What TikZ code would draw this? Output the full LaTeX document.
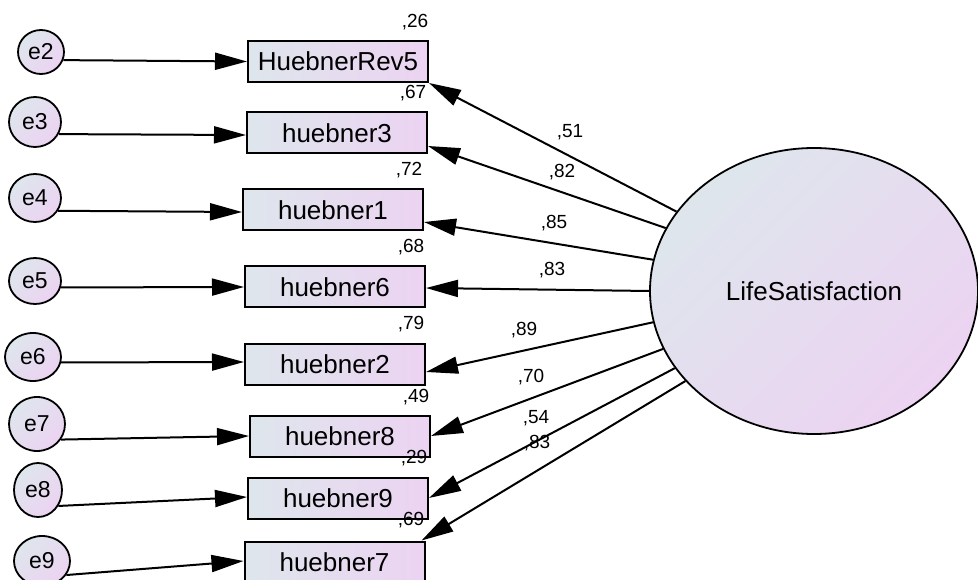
\documentclass[tikz,border=0pt]{standalone}
\usepackage{fontspec}
\setmainfont{Liberation Sans}
\usetikzlibrary{shapes.geometric,arrows.meta}
\definecolor{shadeA}{HTML}{DEE6EC}
\definecolor{shadeB}{HTML}{ECD3F2}
\tikzset{
  obs/.style={draw=black, line width=2pt, rectangle, minimum width=180pt, minimum height=41pt, inner sep=0pt,
    left color=shadeA, right color=shadeB, font=\fontsize{26}{30}\selectfont},
  err/.style={draw=black, line width=1.8pt, ellipse, inner sep=0pt,
    top color=shadeA, bottom color=shadeB, shading angle=45, font=\fontsize{23}{27}\selectfont},
  lat/.style={draw=black, line width=1.8pt, ellipse, minimum width=328pt, minimum height=286pt, inner sep=0pt,
    top color=shadeA, bottom color=shadeB, shading angle=45, font=\fontsize{26}{30}\selectfont},
  lbl/.style={inner sep=0pt, font=\fontsize{19}{22}\selectfont},
  path/.style={draw=black, line width=2pt, -{Triangle[length=32pt,width=17pt]}}
}
\begin{document}
\begin{tikzpicture}[x=1pt,y=-1pt]
\useasboundingbox (0,0) rectangle (978,580);
\clip (0,0) rectangle (978,580);
% observed variables
\node[obs] (HR5) at (338,61.5) {HuebnerRev5};
\node[obs] (h3) at (337,133) {huebner3};
\node[obs] (h1) at (333,210) {huebner1};
\node[obs] (h6) at (335,287) {huebner6};
\node[obs] (h2) at (335,364) {huebner2};
\node[obs] (h8) at (340,436) {huebner8};
\node[obs] (h9) at (338,498) {huebner9};
\node[obs] (h7) at (334.5,562) {huebner7};
% error terms
\node[err, minimum width=46pt, minimum height=44pt] (e2) at (41,52) {e2};
\node[err, minimum width=52pt, minimum height=50pt] (e3) at (35,122) {e3};
\node[err, minimum width=52pt, minimum height=48pt] (e4) at (35,198) {e4};
\node[err, minimum width=52pt, minimum height=46pt] (e5) at (35,281) {e5};
\node[err, minimum width=56pt, minimum height=48pt] (e6) at (33,357) {e6};
\node[err, minimum width=56pt, minimum height=54pt] (e7) at (37,424) {e7};
\node[err, minimum width=48pt, minimum height=54pt] (e8) at (38,490) {e8};
\node[err, minimum width=56pt, minimum height=50pt] (e9) at (42,561) {e9};
% latent
\node[lat] (LS) at (814,291) {LifeSatisfaction};
% error paths
\draw[path] (e2.-20) -- (HR5.west);
\draw[path] (e3.-27) -- ([yshift=-2pt]h3.west);
\draw[path] (e4.-29) -- ([yshift=-2pt]h1.west);
\draw[path] (e5.-14) -- (h6.west);
\draw[path] (e6.-11) -- ([yshift=2pt]h2.west);
\draw[path] (e7.-33) -- (h8.west);
\draw[path] (e8.-38) -- ([yshift=1pt]h9.west);
\draw[path] (e9.-30) -- ([yshift=1pt]h7.west);
% loadings
\draw[path] (LS.150) -- (HR5.south east);
\draw[path] (LS.157.7) -- ([yshift=-13pt]h3.east);
\draw[path] (LS.169) -- ([yshift=-12pt]h1.east);
\draw[path] (LS.180) -- ([yshift=-1pt]h6.east);
\draw[path] (LS.191) -- ([yshift=-8pt]h2.east);
\draw[path] (LS.201.3) -- (h8.east);
\draw[path] (LS.209.6) -- (h9.east);
\draw[path] (LS.215.5) -- ([xshift=-4pt]h7.north east);
% loading labels
\node[lbl] (l1) at (570,132) {,51};
\node[lbl] (l2) at (562,172) {,82};
\node[lbl] (l3) at (554,223) {,85};
\node[lbl] (l4) at (552,270) {,83};
\node[lbl] (l5) at (524,330) {,89};
\node[lbl] (l6) at (531,377) {,70};
\node[lbl] (l7) at (536,418) {,54};
\node[lbl] (l8) at (537,443) {,83};
% R squared labels
\node[lbl] (r1) at (415,22) {,26};
\node[lbl] (r2) at (413,93) {,67};
\node[lbl] (r3) at (409,170) {,72};
\node[lbl] (r4) at (411,247) {,68};
\node[lbl] (r5) at (411,324) {,79};
\node[lbl] (r6) at (416,397) {,49};
\node[lbl] (r7) at (414,458) {,29};
\node[lbl] (r8) at (411,520) {,69};
\end{tikzpicture}
\end{document}
